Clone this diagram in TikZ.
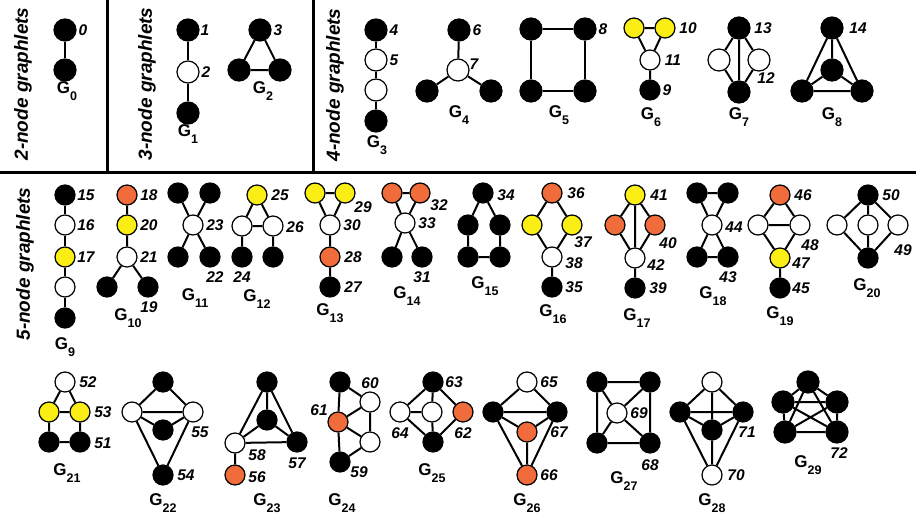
\documentclass[tikz,border=0pt]{standalone}
\usepackage{fontspec}
\setmainfont{Liberation Sans}
\definecolor{gyel}{RGB}{250,238,20}
\definecolor{gora}{RGB}{240,108,58}
\newcommand\gsub[1]{G\raisebox{-0.4em}{\fontsize{12.5}{12.5}\selectfont #1}}
\begin{document}
\begin{tikzpicture}[x=1pt,y=-1pt,
  vtx/.style={circle, draw=black, line width=1.2pt, minimum size=20pt, inner sep=0pt},
  bnode/.style={vtx, fill=black},
  wnode/.style={vtx, fill=white},
  ynode/.style={vtx, fill=gyel},
  onode/.style={vtx, fill=gora},
  big/.style={minimum size=22pt},
  ed/.style={line width=2pt},
  divider/.style={line width=3pt},
  nlab/.style={font=\fontsize{15.5}{15.5}\selectfont\bfseries\itshape, inner sep=0pt},
  glab/.style={font=\fontsize{17}{17}\selectfont\bfseries, inner sep=0pt},
  sec/.style={font=\fontsize{19}{19}\selectfont\bfseries\itshape, rotate=90, inner sep=0pt}]
\fill[white] (0,0) rectangle (916,528);
\useasboundingbox (0,0) rectangle (916,528);
% dividers
\draw[divider] (107,0) -- (107,172);
\draw[divider] (313,0) -- (313,172);
\draw[divider] (0,172) -- (916,172);
% section titles
\node[sec] (s2) at (23,84) {2-node graphlets};
\node[sec] (s3) at (147,84) {3-node graphlets};
\node[sec] (s4) at (335,85) {4-node graphlets};
\node[sec] (s5) at (25,264) {5-node graphlets};

% G0
\node[bnode,big] (a1) at (65,30) {};
\node[bnode,big] (a2) at (65,70) {};
\draw[ed] (a1)--(a2);
\node[nlab] (la0) at (83,30) {0};
\node[glab] (g0) at (67,91) {\gsub{0}};

% G1
\node[bnode,big] (b1) at (188,30) {};
\node[wnode,big] (b2) at (188,72) {};
\node[bnode,big] (b3) at (188,113) {};
\draw[ed] (b1)--(b2) (b2)--(b3);
\node[nlab] (lb1) at (205,30) {1};
\node[nlab] (lb2) at (206,72) {2};
\node[glab] (g1) at (188,134) {\gsub{1}};

% G2
\node[bnode,big] (c1) at (260,30) {};
\node[bnode,big] (c2) at (239,70) {};
\node[bnode,big] (c3) at (280,70) {};
\draw[ed] (c1)--(c2) (c1)--(c3) (c2)--(c3);
\node[nlab] (lc3) at (278,30) {3};
\node[glab] (g2) at (263,91) {\gsub{2}};

% G3
\node[bnode,big] (d1) at (376,30) {};
\node[wnode,big] (d2) at (376,60) {};
\node[wnode,big] (d3) at (376,90) {};
\node[bnode,big] (d4) at (376,121) {};
\draw[ed] (d1)--(d2) (d2)--(d3) (d3)--(d4);
\node[nlab] (ld4) at (394,30) {4};
\node[nlab] (ld5) at (394,60) {5};
\node[glab] (g3) at (377,145) {\gsub{3}};

% G4
\node[bnode,big] (e1) at (459,30) {};
\node[wnode,big] (e2) at (458,70) {};
\node[bnode,big] (e3) at (427,91) {};
\node[bnode,big] (e4) at (491,91) {};
\draw[ed] (e1)--(e2) (e2)--(e3) (e2)--(e4);
\node[nlab] (le6) at (477,30) {6};
\node[nlab] (le7) at (474,64) {7};
\node[glab] (g4) at (459,115) {\gsub{4}};

% G5
\node[bnode,big] (f1) at (531,29) {};
\node[bnode,big] (f2) at (585,29) {};
\node[bnode,big] (f3) at (531,91) {};
\node[bnode,big] (f4) at (585,91) {};
\draw[ed] (f1)--(f2) (f2)--(f4) (f4)--(f3) (f3)--(f1);
\node[nlab] (lf8) at (603,29) {8};
\node[glab] (g5) at (559,115) {\gsub{5}};

% G6
\node[ynode] (h1) at (634,28) {};
\node[ynode] (h2) at (665,28) {};
\node[wnode] (h3) at (650,60) {};
\node[bnode] (h4) at (650,90) {};
\draw[ed] (h1)--(h2) (h1)--(h3) (h2)--(h3) (h3)--(h4);
\node[nlab] (lh10) at (688,28) {10};
\node[nlab] (lh11) at (673,60) {11};
\node[nlab] (lh9) at (667,90) {9};
\node[glab] (g6) at (651,117) {\gsub{6}};

% G7
\node[bnode,big] (i1) at (739,28) {};
\node[wnode,big] (i2) at (719,60) {};
\node[wnode,big] (i3) at (759,60) {};
\node[bnode,big] (i4) at (739,92) {};
\draw[ed] (i1)--(i2) (i1)--(i3) (i1)--(i4) (i2)--(i4) (i3)--(i4);
\node[nlab] (li13) at (763,28) {13};
\node[nlab] (li12) at (766,78) {12};
\node[glab] (g7) at (739,117) {\gsub{7}};

% G8
\node[bnode,big] (j1) at (832,28) {};
\node[bnode,big] (j2) at (832,70) {};
\node[bnode,big] (j3) at (802,91) {};
\node[bnode,big] (j4) at (862,91) {};
\draw[ed] (j1)--(j2) (j1)--(j3) (j1)--(j4) (j2)--(j3) (j2)--(j4) (j3)--(j4);
\node[nlab] (lj14) at (858,28) {14};
\node[glab] (g8) at (832,117) {\gsub{8}};

% G9
\node[bnode] (k1) at (65,195) {};
\node[wnode] (k2) at (65,225) {};
\node[ynode] (k3) at (65,257) {};
\node[wnode] (k4) at (65,287) {};
\node[bnode] (k5) at (65,318) {};
\draw[ed] (k1)--(k2) (k2)--(k3) (k3)--(k4) (k4)--(k5);
\node[nlab] (lk15) at (86,195) {15};
\node[nlab] (lk16) at (86,225) {16};
\node[nlab] (lk17) at (86,257) {17};
\node[glab] (g9) at (65,347) {\gsub{9}};

% G10
\node[onode] (m1) at (127,195) {};
\node[ynode] (m2) at (127,225) {};
\node[wnode] (m3) at (127,257) {};
\node[bnode] (m4) at (107,287) {};
\node[bnode] (m5) at (148,287) {};
\draw[ed] (m1)--(m2) (m2)--(m3) (m3)--(m4) (m3)--(m5);
\node[nlab] (lm18) at (149,195) {18};
\node[nlab] (lm20) at (149,225) {20};
\node[nlab] (lm21) at (149,257) {21};
\node[nlab] (lm19) at (149,307) {19};
\node[glab] (g10) at (128,318) {\gsub{10}};

% G11
\node[bnode] (n1) at (178,193) {};
\node[bnode] (n2) at (210,193) {};
\node[wnode] (n3) at (193,225) {};
\node[bnode] (n4) at (178,257) {};
\node[bnode] (n5) at (210,257) {};
\draw[ed] (n1)--(n3) (n2)--(n3) (n3)--(n4) (n3)--(n5);
\node[nlab] (ln23) at (215,225) {23};
\node[nlab] (ln22) at (215,277) {22};
\node[glab] (g11) at (195,298) {\gsub{11}};

% G12
\node[ynode] (p1) at (257,195) {};
\node[wnode] (p2) at (242,226) {};
\node[wnode] (p3) at (273,226) {};
\node[bnode] (p4) at (242,257) {};
\node[bnode] (p5) at (273,257) {};
\draw[ed] (p1)--(p2) (p1)--(p3) (p2)--(p3) (p2)--(p4) (p3)--(p5);
\node[nlab] (lp25) at (280,195) {25};
\node[nlab] (lp26) at (295,227) {26};
\node[nlab] (lp24) at (242,277) {24};
\node[glab] (g12) at (257,299) {\gsub{12}};

% G13
\node[ynode] (q1) at (315,193) {};
\node[ynode] (q2) at (345,193) {};
\node[wnode] (q3) at (330,225) {};
\node[onode] (q4) at (330,257) {};
\node[bnode] (q5) at (330,287) {};
\draw[ed] (q1)--(q2) (q1)--(q3) (q2)--(q3) (q3)--(q4) (q4)--(q5);
\node[nlab] (lq29) at (363,207) {29};
\node[nlab] (lq30) at (352,225) {30};
\node[nlab] (lq28) at (353,257) {28};
\node[nlab] (lq27) at (353,287) {27};
\node[glab] (g13) at (330,313) {\gsub{13}};

% G14
\node[onode] (r1) at (392,193) {};
\node[onode] (r2) at (420,193) {};
\node[wnode] (r3) at (405,223) {};
\node[bnode] (r4) at (392,257) {};
\node[bnode] (r5) at (422,257) {};
\draw[ed] (r1)--(r2) (r1)--(r3) (r2)--(r3) (r3)--(r4) (r3)--(r5);
\node[nlab] (lr32) at (439,205) {32};
\node[nlab] (lr33) at (427,223) {33};
\node[nlab] (lr31) at (422,277) {31};
\node[glab] (g14) at (407,296) {\gsub{14}};

% G15
\node[bnode] (t1) at (483,193) {};
\node[bnode] (t2) at (468,225) {};
\node[bnode] (t3) at (500,225) {};
\node[bnode] (t4) at (468,257) {};
\node[bnode] (t5) at (500,257) {};
\draw[ed] (t1)--(t2) (t1)--(t3) (t2)--(t4) (t3)--(t5) (t4)--(t5);
\node[nlab] (lt34) at (506,195) {34};
\node[glab] (g15) at (485,286) {\gsub{15}};

% G16
\node[onode] (u1) at (552,193) {};
\node[ynode] (u2) at (532,225) {};
\node[ynode] (u3) at (572,225) {};
\node[wnode] (u4) at (552,257) {};
\node[bnode] (u5) at (552,287) {};
\draw[ed] (u1)--(u2) (u1)--(u3) (u2)--(u4) (u3)--(u4) (u4)--(u5);
\node[nlab] (lu36) at (576,193) {36};
\node[nlab] (lu37) at (583,242) {37};
\node[nlab] (lu38) at (574,263) {38};
\node[nlab] (lu35) at (574,287) {35};
\node[glab] (g16) at (553,314) {\gsub{16}};

% G17
\node[ynode] (v1) at (635,195) {};
\node[onode] (v2) at (615,225) {};
\node[onode] (v3) at (655,225) {};
\node[wnode] (v4) at (635,258) {};
\node[bnode] (v5) at (635,288) {};
\draw[ed] (v1)--(v2) (v1)--(v3) (v1)--(v4) (v2)--(v4) (v3)--(v4) (v4)--(v5);
\node[nlab] (lv41) at (659,195) {41};
\node[nlab] (lv40) at (668,243) {40};
\node[nlab] (lv42) at (656,265) {42};
\node[nlab] (lv39) at (658,288) {39};
\node[glab] (g17) at (637,318) {\gsub{17}};

% G18
\node[bnode] (w1) at (697,193) {};
\node[bnode] (w2) at (728,193) {};
\node[wnode] (w3) at (712,225) {};
\node[bnode] (w4) at (697,257) {};
\node[bnode] (w5) at (728,257) {};
\draw[ed] (w1)--(w2) (w1)--(w3) (w2)--(w3) (w3)--(w4) (w3)--(w5) (w4)--(w5);
\node[nlab] (lw44) at (734,227) {44};
\node[nlab] (lw43) at (728,277) {43};
\node[glab] (g18) at (713,296) {\gsub{18}};

% G19
\node[onode] (z1) at (780,195) {};
\node[wnode] (z2) at (758,225) {};
\node[wnode] (z3) at (800,225) {};
\node[ynode] (z4) at (780,258) {};
\node[bnode] (z5) at (780,288) {};
\draw[ed] (z1)--(z2) (z1)--(z3) (z2)--(z3) (z2)--(z4) (z3)--(z4) (z4)--(z5);
\node[nlab] (lz46) at (803,195) {46};
\node[nlab] (lz48) at (810,245) {48};
\node[nlab] (lz47) at (801,263) {47};
\node[nlab] (lz45) at (801,288) {45};
\node[glab] (g19) at (780,316) {\gsub{19}};

% G20
\node[bnode] (x1) at (868,195) {};
\node[wnode] (x2) at (837,225) {};
\node[wnode] (x3) at (868,225) {};
\node[wnode] (x4) at (898,225) {};
\node[bnode] (x5) at (868,258) {};
\draw[ed] (x1)--(x2) (x1)--(x3) (x1)--(x4) (x2)--(x5) (x3)--(x5) (x4)--(x5);
\node[nlab] (lx50) at (891,195) {50};
\node[nlab] (lx49) at (903,250) {49};
\node[glab] (g20) at (867,288) {\gsub{20}};

% G21
\node[wnode] (aa1) at (65,382) {};
\node[ynode] (aa2) at (49,412) {};
\node[ynode] (aa3) at (80,412) {};
\node[bnode] (aa4) at (49,442) {};
\node[bnode] (aa5) at (80,442) {};
\draw[ed] (aa1)--(aa2) (aa1)--(aa3) (aa2)--(aa3) (aa2)--(aa4) (aa3)--(aa5) (aa4)--(aa5);
\node[nlab] (laa52) at (88,382) {52};
\node[nlab] (laa53) at (103,412) {53};
\node[nlab] (laa51) at (103,443) {51};
\node[glab] (g21) at (67,473) {\gsub{21}};

% G22
\node[bnode] (bb1) at (163,382) {};
\node[wnode] (bb2) at (132,412) {};
\node[wnode] (bb3) at (193,412) {};
\node[bnode] (bb4) at (163,430) {};
\node[bnode] (bb5) at (163,475) {};
\draw[ed] (bb1)--(bb2) (bb1)--(bb3) (bb2)--(bb3) (bb2)--(bb4) (bb3)--(bb4) (bb2)--(bb5) (bb3)--(bb5);
\node[nlab] (lbb55) at (200,432) {55};
\node[nlab] (lbb54) at (186,475) {54};
\node[glab] (g22) at (163,503) {\gsub{22}};

% G23
\node[bnode] (cc1) at (267,382) {};
\node[bnode] (cc2) at (267,420) {};
\node[wnode] (cc3) at (235,443) {};
\node[bnode] (cc4) at (297,442) {};
\node[onode] (cc5) at (235,475) {};
\draw[ed] (cc1)--(cc3) (cc1)--(cc4) (cc1)--(cc2) (cc2)--(cc3) (cc2)--(cc4) (cc3)--(cc4) (cc3)--(cc5);
\node[nlab] (lcc58) at (257,455) {58};
\node[nlab] (lcc57) at (297,463) {57};
\node[nlab] (lcc56) at (257,477) {56};
\node[glab] (g23) at (267,503) {\gsub{23}};

% G24
\node[bnode] (dd1) at (340,382) {};
\node[onode] (dd2) at (338,422) {};
\node[bnode] (dd3) at (340,462) {};
\node[wnode] (dd4) at (370,402) {};
\node[wnode] (dd5) at (370,442) {};
\draw[ed] (dd1)--(dd2) (dd2)--(dd3) (dd1)--(dd4) (dd4)--(dd2) (dd4)--(dd5) (dd2)--(dd5) (dd5)--(dd3);
\node[nlab] (ldd60) at (370,383) {60};
\node[nlab] (ldd61) at (319,410) {61};
\node[nlab] (ldd59) at (359,472) {59};
\node[glab] (g24) at (342,503) {\gsub{24}};

% G25
\node[bnode] (ee1) at (433,382) {};
\node[wnode] (ee2) at (400,412) {};
\node[wnode] (ee3) at (432,412) {};
\node[onode] (ee4) at (463,412) {};
\node[bnode] (ee5) at (433,442) {};
\draw[ed] (ee1)--(ee2) (ee1)--(ee3) (ee1)--(ee4) (ee2)--(ee3) (ee2)--(ee5) (ee3)--(ee5) (ee4)--(ee5);
\node[nlab] (lee63) at (454,382) {63};
\node[nlab] (lee64) at (400,433) {64};
\node[nlab] (lee62) at (463,433) {62};
\node[glab] (g25) at (432,473) {\gsub{25}};

% G26
\node[wnode] (ff1) at (527,382) {};
\node[bnode] (ff2) at (493,412) {};
\node[bnode] (ff3) at (557,412) {};
\node[onode] (ff4) at (527,432) {};
\node[onode] (ff5) at (527,475) {};
\draw[ed] (ff1)--(ff2) (ff1)--(ff3) (ff2)--(ff3) (ff2)--(ff4) (ff3)--(ff4) (ff2)--(ff5) (ff3)--(ff5) (ff4)--(ff5);
\node[nlab] (lff65) at (549,382) {65};
\node[nlab] (lff67) at (559,432) {67};
\node[nlab] (lff66) at (549,475) {66};
\node[glab] (g26) at (527,503) {\gsub{26}};

% G27
\node[bnode] (hh1) at (597,382) {};
\node[bnode] (hh2) at (650,382) {};
\node[wnode] (hh3) at (617,413) {};
\node[bnode] (hh4) at (597,443) {};
\node[bnode] (hh5) at (650,443) {};
\draw[ed] (hh1)--(hh2) (hh2)--(hh5) (hh5)--(hh4) (hh4)--(hh1) (hh3)--(hh1) (hh3)--(hh2) (hh3)--(hh4) (hh3)--(hh5);
\node[nlab] (lhh69) at (639,413) {69};
\node[nlab] (lhh68) at (650,465) {68};
\node[glab] (g27) at (624,481) {\gsub{27}};

% G28
\node[wnode] (ii1) at (712,382) {};
\node[bnode] (ii2) at (680,412) {};
\node[bnode] (ii3) at (743,412) {};
\node[bnode] (ii4) at (712,430) {};
\node[wnode] (ii5) at (712,475) {};
\draw[ed] (ii1)--(ii2) (ii1)--(ii3) (ii1)--(ii4) (ii2)--(ii3) (ii2)--(ii4) (ii3)--(ii4) (ii2)--(ii5) (ii3)--(ii5) (ii4)--(ii5);
\node[nlab] (lii71) at (747,432) {71};
\node[nlab] (lii70) at (736,475) {70};
\node[glab] (g28) at (712,503) {\gsub{28}};

% G29
\node[bnode,big] (jj1) at (808,382) {};
\node[bnode,big] (jj2) at (783,402) {};
\node[bnode,big] (jj3) at (837,402) {};
\node[bnode,big] (jj4) at (785,432) {};
\node[bnode,big] (jj5) at (837,432) {};
\draw[ed] (jj1)--(jj2) (jj1)--(jj3) (jj1)--(jj4) (jj1)--(jj5) (jj2)--(jj3) (jj2)--(jj4) (jj2)--(jj5) (jj3)--(jj4) (jj3)--(jj5) (jj4)--(jj5);
\node[nlab] (ljj72) at (839,453) {72};
\node[glab] (g29) at (808,465) {\gsub{29}};
\end{tikzpicture}
\end{document}
